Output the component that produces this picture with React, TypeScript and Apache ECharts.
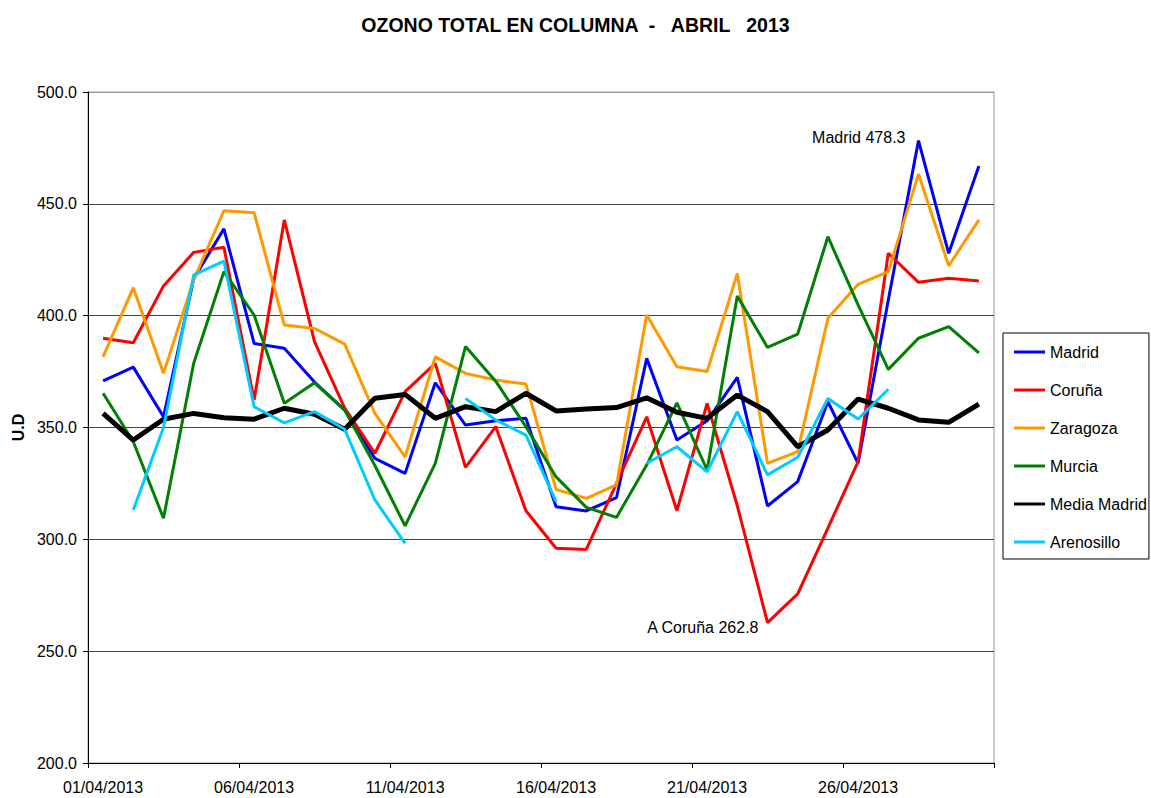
import React, { useEffect, useRef } from "react";
import * as echarts from "echarts";

const categories = [
  "01/04/2013", "02/04/2013", "03/04/2013", "04/04/2013", "05/04/2013",
  "06/04/2013", "07/04/2013", "08/04/2013", "09/04/2013", "10/04/2013",
  "11/04/2013", "12/04/2013", "13/04/2013", "14/04/2013", "15/04/2013",
  "16/04/2013", "17/04/2013", "18/04/2013", "19/04/2013", "20/04/2013",
  "21/04/2013", "22/04/2013", "23/04/2013", "24/04/2013", "25/04/2013",
  "26/04/2013", "27/04/2013", "28/04/2013", "29/04/2013", "30/04/2013",
];

const madrid = [370.8, 377.0, 354.8, 416.5, 438.8, 387.6, 385.4, 370.3, 357.8, 336.2, 329.5, 370.0, 351.1, 353.0, 354.1, 314.6, 312.7, 318.6, 380.9, 344.4, 353.0, 372.4, 314.9, 325.8, 361.5, 334.0, 407.0, 478.3, 427.9, 466.9];
const coruna = [389.9, 387.9, 413.3, 428.3, 430.6, 362.3, 442.8, 388.4, 358.7, 338.5, 366.0, 378.7, 332.2, 350.4, 312.8, 296.0, 295.5, 325.0, 354.8, 312.8, 360.8, 315.0, 262.8, 275.6, 305.0, 334.7, 427.9, 414.9, 416.7, 415.5];
const zaragoza = [381.6, 412.5, 374.2, 416.0, 446.9, 446.0, 395.8, 394.3, 387.3, 356.3, 336.9, 381.6, 374.2, 371.2, 369.4, 322.3, 318.3, 324.3, 400.3, 377.2, 375.0, 418.9, 334.0, 339.2, 398.8, 414.0, 419.7, 463.3, 422.3, 442.8];
const murcia = [365.3, 343.6, 309.4, 378.7, 419.7, 400.3, 360.8, 370.0, 357.8, 333.0, 306.0, 334.0, 386.2, 370.7, 350.4, 327.9, 314.3, 309.8, 333.2, 361.0, 331.0, 408.8, 385.8, 391.8, 435.3, 404.8, 376.0, 389.9, 395.1, 383.4];
const mediaMadrid = [356.3, 344.4, 353.7, 356.3, 354.4, 353.7, 358.6, 355.9, 349.2, 363.1, 364.8, 354.1, 359.3, 357.1, 365.3, 357.4, 358.3, 358.9, 363.3, 356.8, 354.1, 364.5, 357.1, 341.4, 348.9, 362.7, 358.6, 353.4, 352.3, 360.5];
const arenosillo = [null, 313.1, 350.0, 418.2, 424.4, 359.3, 352.1, 357.1, 349.2, 317.6, 298.2, null, 363.0, 353.4, 346.6, 316.9, null, null, 334.0, 341.4, 330.2, 357.1, 328.8, 336.7, 363.0, 353.8, 367.1, null, null, null];

const seriesNames = ["Madrid", "Coruña", "Zaragoza", "Murcia", "Media Madrid", "Arenosillo"];
const seriesColors = ["#0000FF", "#FF0000", "#FF9900", "#008000", "#000000", "#00CCFF"];
const seriesWidths = [3, 3, 3, 3, 5, 3];
const seriesData = [madrid, coruna, zaragoza, murcia, mediaMadrid, arenosillo];

const yTicks = { min: 200, max: 500, interval: 50 };
const titleText = "OZONO TOTAL EN COLUMNA  -   ABRIL   2013";
const maxLabel = { series: "Madrid", date: "28/04/2013", value: 478.3, text: "Madrid 478.3" };
const minLabel = { series: "Coruña", date: "23/04/2013", value: 262.8, text: "A Coruña 262.8" };

const FONT = "'Liberation Sans', Arial, sans-serif";

export default function App() {
  const ref = useRef<HTMLDivElement>(null);

  useEffect(() => {
    if (!ref.current) return;
    const chart = echarts.init(ref.current, null, { renderer: "svg" });

    const series = seriesNames.map((name, i) => {
      const s: any = {
        name,
        type: "line",
        data: seriesData[i],
        symbol: "none",
        showSymbol: false,
        connectNulls: false,
        lineStyle: { color: seriesColors[i], width: seriesWidths[i] },
        itemStyle: { color: seriesColors[i] },
        emphasis: { disabled: true },
      };
      const lbl = name === maxLabel.series ? { l: maxLabel, dist: 13, off: [0, -3] } : name === minLabel.series ? { l: minLabel, dist: 9, off: [0, 5] } : null;
      if (lbl) {
        s.markPoint = {
          symbol: "circle",
          symbolSize: 0,
          silent: true,
          data: [
            {
              coord: [lbl.l.date, lbl.l.value],
              label: {
                show: true,
                formatter: lbl.l.text,
                position: "left",
                distance: lbl.dist,
                offset: lbl.off,
                color: "#000",
                fontSize: 16,
                fontFamily: FONT,
              },
            },
          ],
        };
      }
      return s;
    });

    chart.setOption({
      animation: false,
      backgroundColor: "#ffffff",
      title: {
        text: titleText,
        left: "center",
        top: 10,
        textStyle: { fontFamily: FONT, fontSize: 19.5, fontWeight: "bold", color: "#000" },
      },
      grid: {
        left: 88,
        right: 157,
        top: 92,
        bottom: 35,
        show: true,
        borderColor: "#999999",
        borderWidth: 1,
      },
      legend: {
        orient: "vertical",
        left: 1003,
        top: 333,
        padding: [11, 2, 9, 11],
        itemGap: 22,
        itemWidth: 31,
        itemHeight: 3,
        icon: "rect",
        borderColor: "#000",
        borderWidth: 1,
        textStyle: { fontFamily: FONT, fontSize: 16, color: "#000" },
        data: seriesNames,
      },
      xAxis: {
        type: "category",
        data: categories,
        boundaryGap: true,
        axisLine: { lineStyle: { color: "#000", width: 1 } },
        axisTick: { show: true, interval: 4, length: 5, lineStyle: { color: "#000" } },
        axisLabel: { interval: 4, margin: 16, fontFamily: FONT, fontSize: 16, color: "#000" },
        splitLine: { show: false },
      },
      yAxis: {
        type: "value",
        min: yTicks.min,
        max: yTicks.max,
        interval: yTicks.interval,
        name: "U.D",
        nameLocation: "middle",
        nameRotate: 90,
        nameGap: 62,
        nameTextStyle: { fontFamily: FONT, fontSize: 16, fontWeight: "bold", color: "#000" },
        axisLine: { show: true, lineStyle: { color: "#000", width: 1 } },
        axisTick: { show: true, length: 5, lineStyle: { color: "#000" } },
        axisLabel: {
          margin: 11,
          fontFamily: FONT,
          fontSize: 16,
          color: "#000",
          formatter: (v: number) => v.toFixed(1),
        },
        splitLine: {
          show: true,
          lineStyle: { color: ["#444", "#444", "#444", "#444", "#444", "#444", "#999"], width: 1 },
        },
      },
      series,
    });

    return () => chart.dispose();
  }, []);

  return (
    <div
      ref={ref}
      style={{ position: "absolute", left: 0, top: 0, width: 1151, height: 798 }}
    />
  );
}
